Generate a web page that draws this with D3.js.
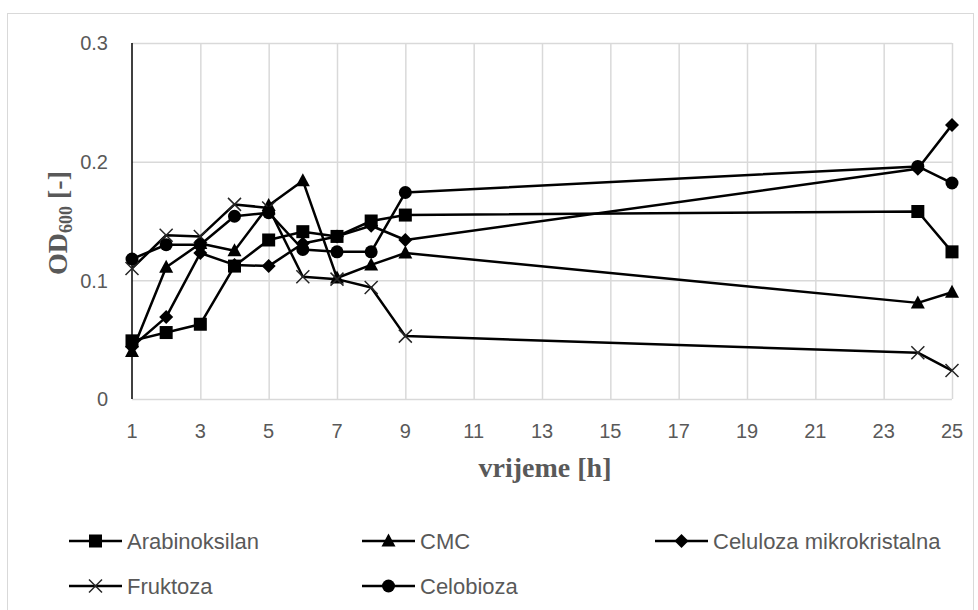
<!DOCTYPE html>
<html><head><meta charset="utf-8">
<script src="https://cdn.jsdelivr.net/npm/d3@7"></script>
<style>
html,body{margin:0;padding:0;background:#fff;}
svg{display:block;}
text{font-family:"Liberation Sans",Arial,sans-serif;fill:#595959;}
</style></head>
<body>
<svg id="chart" width="978" height="610"></svg>
<script>
const hours = [1, 2, 3, 4, 5, 6, 7, 8, 9, 24, 25];
const xTicks = [1, 3, 5, 7, 9, 11, 13, 15, 17, 19, 21, 23, 25];
const yTicks = [0, 0.1, 0.2, 0.3];
const seriesNames = ["Arabinoksilan", "CMC", "Celuloza mikrokristalna", "Fruktoza", "Celobioza"];
const arabinoksilan = [0.049, 0.056, 0.063, 0.112, 0.134, 0.141, 0.137, 0.150, 0.155, 0.158, 0.124];
const cmc =           [0.040, 0.111, 0.131, 0.125, 0.163, 0.184, 0.102, 0.113, 0.123, 0.081, 0.090];
const celuloza =      [0.044, 0.069, 0.123, 0.113, 0.112, 0.131, 0.137, 0.146, 0.134, 0.194, 0.231];
const fruktoza =      [0.110, 0.138, 0.137, 0.164, 0.161, 0.103, 0.101, 0.094, 0.053, 0.039, 0.024];
const celobioza =     [0.118, 0.130, 0.130, 0.154, 0.157, 0.126, 0.124, 0.124, 0.174, 0.196, 0.182];
const seriesValues = [arabinoksilan, cmc, celuloza, fruktoza, celobioza];
const markerTypes = ["square", "triangle", "diamond", "cross", "circle"];

const svg = d3.select("#chart");
// outer chart border
svg.append("rect").attr("x", 7.5).attr("y", 13.5).attr("width", 966).attr("height", 620)
  .attr("fill", "none").attr("stroke", "#d9d9d9").attr("stroke-width", 1);

const x = d3.scaleLinear().domain([1, 25]).range([132, 952]);
const y = d3.scaleLinear().domain([0, 0.3]).range([399, 43]);

// horizontal gridlines
const gy = svg.append("g").attr("transform", "translate(132,0)")
  .call(d3.axisLeft(y).tickValues(yTicks).tickSize(-(952 - 132)).tickFormat(""));
gy.select(".domain").remove();
gy.selectAll("line").attr("stroke", "#d9d9d9").attr("stroke-width", 1.5);

// vertical gridlines
const gx = svg.append("g").attr("transform", "translate(0,399)")
  .call(d3.axisBottom(x).tickValues(xTicks.filter(d => d !== 1)).tickSize(-(399 - 43)).tickFormat(""));
gx.select(".domain").remove();
gx.selectAll("line").attr("stroke", "#d9d9d9").attr("stroke-width", 1.5);

// y axis line
svg.append("line").attr("x1", x(1)).attr("x2", x(1)).attr("y1", y(0.3)).attr("y2", y(0))
  .attr("stroke", "#000").attr("stroke-width", 1.5);

// tick labels
svg.append("g").selectAll("text").data(yTicks).join("text")
  .attr("x", 108).attr("y", d => y(d)).attr("dy", "0.36em").attr("text-anchor", "end")
  .attr("font-size", 20).text(d => d === 0 ? "0" : d3.format(".1f")(d));
svg.append("g").selectAll("text").data(xTicks).join("text")
  .attr("x", d => x(d)).attr("y", 438).attr("text-anchor", "middle")
  .attr("font-size", 20).text(d => d);

// axis titles
svg.append("text").attr("x", 545).attr("y", 477).attr("text-anchor", "middle")
  .style("font-family", "'Liberation Serif','Times New Roman',serif").style("font-weight", "bold")
  .attr("font-size", 28).text("vrijeme [h]");
const yt = svg.append("text").attr("transform", "translate(67,223) rotate(-90)").attr("text-anchor", "middle")
  .style("font-family", "'Liberation Serif','Times New Roman',serif").style("font-weight", "bold")
  .attr("font-size", 28);
yt.append("tspan").text("OD");
yt.append("tspan").attr("font-size", 18).attr("dy", 5).text("600");
yt.append("tspan").attr("dy", -5).text(" [-]");

function drawMarker(g, type, cx, cy) {
  if (type === "square") {
    g.append("rect").attr("x", cx - 6.5).attr("y", cy - 6.5).attr("width", 13).attr("height", 13).attr("fill", "#000");
  } else if (type === "circle") {
    g.append("circle").attr("cx", cx).attr("cy", cy).attr("r", 6.5).attr("fill", "#000");
  } else if (type === "triangle") {
    g.append("path").attr("d", `M${cx},${cy - 7.5}L${cx + 7},${cy + 5.5}L${cx - 7},${cy + 5.5}Z`).attr("fill", "#000");
  } else if (type === "diamond") {
    g.append("path").attr("d", `M${cx},${cy - 7}L${cx + 7},${cy}L${cx},${cy + 7}L${cx - 7},${cy}Z`).attr("fill", "#000");
  } else if (type === "cross") {
    g.append("path").attr("d", `M${cx - 6.5},${cy - 6.5}L${cx + 6.5},${cy + 6.5}M${cx - 6.5},${cy + 6.5}L${cx + 6.5},${cy - 6.5}`)
      .attr("stroke", "#262626").attr("stroke-width", 1.5).attr("fill", "none");
  }
}

const line = d3.line().x(d => x(d[0])).y(d => y(d[1]));
seriesValues.forEach((vals, i) => {
  const g = svg.append("g");
  const pts = hours.map((h, j) => [h, vals[j]]);
  g.append("path").attr("d", line(pts)).attr("fill", "none").attr("stroke", "#000")
    .attr("stroke-width", 2.5).attr("stroke-linejoin", "round");
  pts.forEach(p => drawMarker(g, markerTypes[i], x(p[0]), y(p[1])));
});

// legend
const legendPos = [[69, 541], [362, 541], [655, 541], [69, 586], [362, 586]];
seriesNames.forEach((name, i) => {
  const [lx, ly] = legendPos[i];
  const g = svg.append("g");
  g.append("line").attr("x1", lx).attr("x2", lx + 53).attr("y1", ly).attr("y2", ly)
    .attr("stroke", "#000").attr("stroke-width", 2.5);
  drawMarker(g, markerTypes[i], lx + 26.5, ly);
  g.append("text").attr("x", lx + 58).attr("y", ly).attr("dy", "0.36em").attr("font-size", 22).text(name);
});
</script>
</body></html>
